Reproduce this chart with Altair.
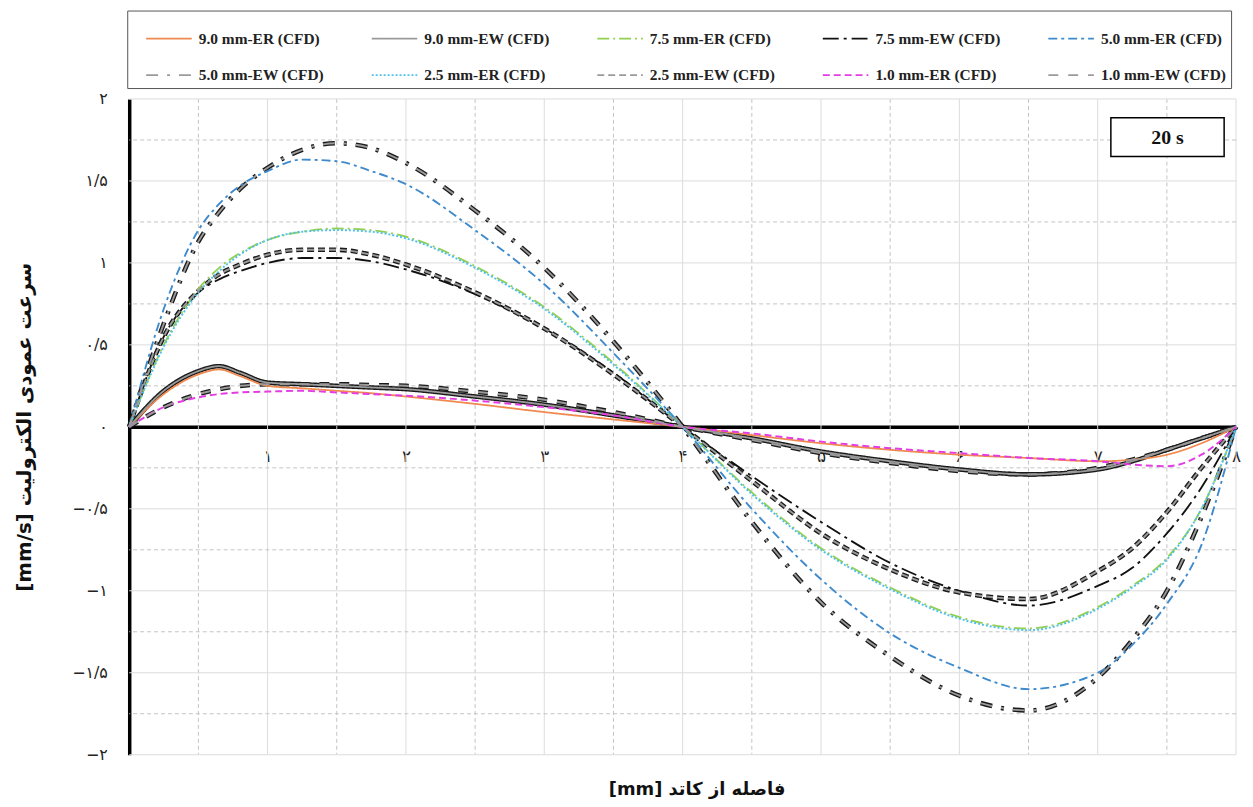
import altair as alt
import pandas as pd

# ---------------- data ----------------
X = [0, 0.25, 0.5, 0.65, 0.8, 1, 1.25, 1.5, 1.75, 2, 2.5, 3, 3.5, 4,
     4.5, 5, 5.5, 6, 6.5, 7, 7.25, 7.5, 7.75, 8]

ER_90 = [0, 0.20, 0.32, 0.35, 0.31, 0.25, 0.235, 0.22, 0.205, 0.185, 0.14, 0.09, 0.045, 0,
         -0.05, -0.10, -0.14, -0.17, -0.19, -0.21, -0.20, -0.17, -0.10, 0]
EW_90 = [0, 0.22, 0.34, 0.37, 0.33, 0.27, 0.26, 0.25, 0.24, 0.23, 0.185, 0.135, 0.07, 0,
         -0.07, -0.15, -0.21, -0.26, -0.29, -0.26, -0.21, -0.14, -0.07, 0]
ER_75 = [0, 0.50, 0.84, 0.97, 1.06, 1.14, 1.19, 1.21, 1.20, 1.16, 0.98, 0.73, 0.39, 0,
         -0.40, -0.74, -0.98, -1.16, -1.23, -1.10, -0.97, -0.80, -0.50, 0]
EW_75 = [0, 0.55, 0.82, 0.90, 0.95, 1.00, 1.03, 1.03, 1.01, 0.96, 0.81, 0.60, 0.33, 0,
         -0.30, -0.58, -0.83, -1.00, -1.09, -0.97, -0.86, -0.65, -0.37, 0]
ER_50 = [0, 0.72, 1.20, 1.36, 1.47, 1.56, 1.63, 1.62, 1.56, 1.48, 1.20, 0.87, 0.45, 0,
         -0.50, -0.93, -1.26, -1.47, -1.60, -1.50, -1.33, -1.08, -0.72, 0]
EW_50 = [0, 0.63, 1.13, 1.31, 1.45, 1.58, 1.69, 1.73, 1.70, 1.61, 1.32, 0.97, 0.52, 0,
         -0.58, -1.07, -1.40, -1.64, -1.73, -1.53, -1.30, -1.00, -0.55, 0]
ER_25 = [0, 0.49, 0.82, 0.95, 1.05, 1.14, 1.19, 1.20, 1.19, 1.15, 0.97, 0.72, 0.38, 0,
         -0.41, -0.75, -0.99, -1.17, -1.24, -1.11, -0.98, -0.81, -0.50, 0]
EW_25 = [0, 0.55, 0.83, 0.93, 0.99, 1.05, 1.08, 1.08, 1.05, 0.99, 0.82, 0.60, 0.32, 0,
         -0.33, -0.65, -0.87, -1.01, -1.05, -0.88, -0.74, -0.52, -0.25, 0]
ER_10 = [0, 0.12, 0.18, 0.20, 0.21, 0.215, 0.22, 0.21, 0.20, 0.19, 0.16, 0.12, 0.07, 0,
         -0.04, -0.09, -0.13, -0.16, -0.19, -0.21, -0.23, -0.24, -0.17, 0]
EW_10 = [0, 0.12, 0.20, 0.23, 0.25, 0.26, 0.26, 0.26, 0.255, 0.25, 0.215, 0.165, 0.09, 0,
         -0.08, -0.16, -0.22, -0.27, -0.29, -0.25, -0.20, -0.14, -0.07, 0]

SERIES = ["9.0 mm-ER (CFD)", "9.0 mm-EW (CFD)", "7.5 mm-ER (CFD)", "7.5 mm-EW (CFD)",
          "5.0 mm-ER (CFD)", "5.0 mm-EW (CFD)", "2.5 mm-ER (CFD)", "2.5 mm-EW (CFD)",
          "1.0 mm-ER (CFD)", "1.0 mm-EW (CFD)"]
VALUES = [ER_90, EW_90, ER_75, EW_75, ER_50, EW_50, ER_25, EW_25, ER_10, EW_10]
OUTLINED = ["9.0 mm-EW (CFD)", "5.0 mm-EW (CFD)", "2.5 mm-EW (CFD)", "1.0 mm-EW (CFD)"]

X_TICKS = [1, 2, 3, 4, 5, 6, 7, 8]
X_LABELS = ["۱", "۲", "۳", "۴", "۵", "۶", "۷", "۸"]
Y_TICKS = [-2, -1.5, -1, -0.5, 0, 0.5, 1, 1.5, 2]
Y_LABELS = ["−۲", "−۱/۵", "−۱", "−۰/۵", "۰", "۰/۵", "۱", "۱/۵", "۲"]

X_MAJOR = [1, 2, 3, 4, 5, 6, 7, 8]
X_MINOR = [0.5, 1.5, 2.5, 3.5, 4.5, 5.5, 6.5, 7.5]
Y_MAJOR = [-2, -1.5, -1, -0.5, 0.5, 1, 1.5, 2]
Y_MINOR = [-1.75, -1.25, -0.75, -0.25, 0.25, 0.75, 1.25, 1.75]

TIME_LABEL = "20 s"
X_TITLE = "[mm] فاصله از کاتد"
Y_TITLE = "[mm/s] سرعت عمودی الکترولیت"

# ---------------- styles ----------------
COLORS = ["#F0894F", "#9A9A9A", "#92D050", "#111111", "#3E8ACC",
          "#9A9A9A", "#4FC1E9", "#9A9A9A", "#E23CE2", "#9A9A9A"]
DASHES = [[1, 0], [1, 0], [12, 4, 2, 4], [16, 5, 3, 5], [9, 4, 3, 4],
          [12, 9, 3, 9], [2, 2], [7, 4], [7, 4], [10, 10]]
WIDTHS = [1.8, 2.0, 2.2, 3.0, 1.8, 2.4, 2.2, 2.2, 2.0, 2.4]

rows = []
for s, vals in zip(SERIES, VALUES):
    for xv, yv in zip(X, vals):
        rows.append({"x": xv, "v": yv, "series": s})
df = pd.DataFrame(rows)

W, H = 1114, 660
xs = alt.Scale(domain=[0, 8], nice=False, zero=False)
ys = alt.Scale(domain=[-2, 2], nice=False, zero=False)


def expr(vals, labs):
    return " : ".join(f"datum.value == {v} ? '{l}'" for v, l in zip(vals, labs)) + " : ''"


x_axis = alt.Axis(values=X_TICKS, labelExpr=expr(X_TICKS, X_LABELS), offset=-H / 2,
                  domainColor="black", domainWidth=3.5, ticks=False, grid=False,
                  labelPadding=22, labelFont="DejaVu Sans", labelFontSize=17,
                  labelColor="#222", labelFlush=False,
                  title=X_TITLE, titleFont="DejaVu Sans", titleFontSize=18,
                  titleFontWeight="bold", titleColor="#111", titleY=H / 2 + 35,
                  titleX=W / 2 + 14, titleBaseline="middle")
y_axis = alt.Axis(values=Y_TICKS, labelExpr=expr(Y_TICKS, Y_LABELS),
                  domainColor="black", domainWidth=3.5, ticks=False, grid=False,
                  labelPadding=22, labelFont="DejaVu Sans", labelFontSize=16,
                  labelColor="#222", labelFlush=False,
                  title=Y_TITLE, titleFont="DejaVu Sans", titleFontSize=20,
                  titleFontWeight="bold", titleColor="#111", titleX=-105, titleY=H / 2,
                  titleAngle=-90, titleAlign="center", titleBaseline="middle")

legend = alt.Legend(title=None, orient="none", legendX=-2, legendY=-89,
                    direction="horizontal", columns=5, symbolType="stroke",
                    symbolSize=2100, symbolOffset=14,
                    labelFont="Liberation Serif", labelFontWeight="bold",
                    labelFontSize=15.5, labelColor="#222", labelLimit=0, labelOffset=6,
                    strokeColor="#555", padding=4, columnPadding=32, rowPadding=4,
                    fillColor="white")

color_enc = alt.Color("series:N", scale=alt.Scale(domain=SERIES, range=COLORS), legend=legend)
dash_enc = alt.StrokeDash("series:N", scale=alt.Scale(domain=SERIES, range=DASHES), legend=legend)
width_enc = alt.StrokeWidth("series:N", scale=alt.Scale(domain=SERIES, range=WIDTHS), legend=legend)

gx_major = alt.Chart(pd.DataFrame({"g": X_MAJOR})).mark_rule(color="#dcdcdc", strokeWidth=1).encode(
    x=alt.X("g:Q", scale=xs, axis=x_axis))
gx_minor = alt.Chart(pd.DataFrame({"g": X_MINOR})).mark_rule(color="#c4c4c4", strokeWidth=1, strokeDash=[4, 3]).encode(
    x=alt.X("g:Q", scale=xs, axis=x_axis))
gy_major = alt.Chart(pd.DataFrame({"g": Y_MAJOR})).mark_rule(color="#dcdcdc", strokeWidth=1).encode(
    y=alt.Y("g:Q", scale=ys, axis=y_axis))
gy_minor = alt.Chart(pd.DataFrame({"g": Y_MINOR})).mark_rule(color="#c4c4c4", strokeWidth=1, strokeDash=[4, 3]).encode(
    y=alt.Y("g:Q", scale=ys, axis=y_axis))

outline = alt.Chart(df).transform_filter(
    alt.FieldOneOfPredicate(field="series", oneOf=OUTLINED)
).mark_line(interpolate="monotone", color="#1a1a1a", strokeWidth=4.6).encode(
    x=alt.X("x:Q", scale=xs, axis=x_axis),
    y=alt.Y("v:Q", scale=ys, axis=y_axis),
    detail="series:N",
    strokeDash=dash_enc,
)

lines = alt.Chart(df).mark_line(interpolate="monotone").encode(
    x=alt.X("x:Q", scale=xs, axis=x_axis),
    y=alt.Y("v:Q", scale=ys, axis=y_axis),
    color=color_enc,
    strokeDash=dash_enc,
    strokeWidth=width_enc,
)

box = alt.Chart(pd.DataFrame({"t": [TIME_LABEL]})).mark_rect(
    fill="white", stroke="black", strokeWidth=1.5).encode(
    x=alt.value(988), x2=alt.value(1102), y=alt.value(19), y2=alt.value(58))
box_text = alt.Chart(pd.DataFrame({"t": [TIME_LABEL]})).mark_text(
    font="Liberation Serif", fontWeight="bold", fontSize=20, color="#111",
    align="center", baseline="middle").encode(
    x=alt.value(1045), y=alt.value(39), text="t:N")

chart = alt.layer(gx_major, gx_minor, gy_major, gy_minor, outline, lines, box, box_text).properties(
    width=W, height=H,
    autosize=alt.AutoSizeParams(type="none"),
    padding={"left": 122, "top": 89, "right": 9, "bottom": 42},
    background="white",
).configure_view(stroke=None)

chart.save("out.html", embed_options={"renderer": "svg", "actions": False})
